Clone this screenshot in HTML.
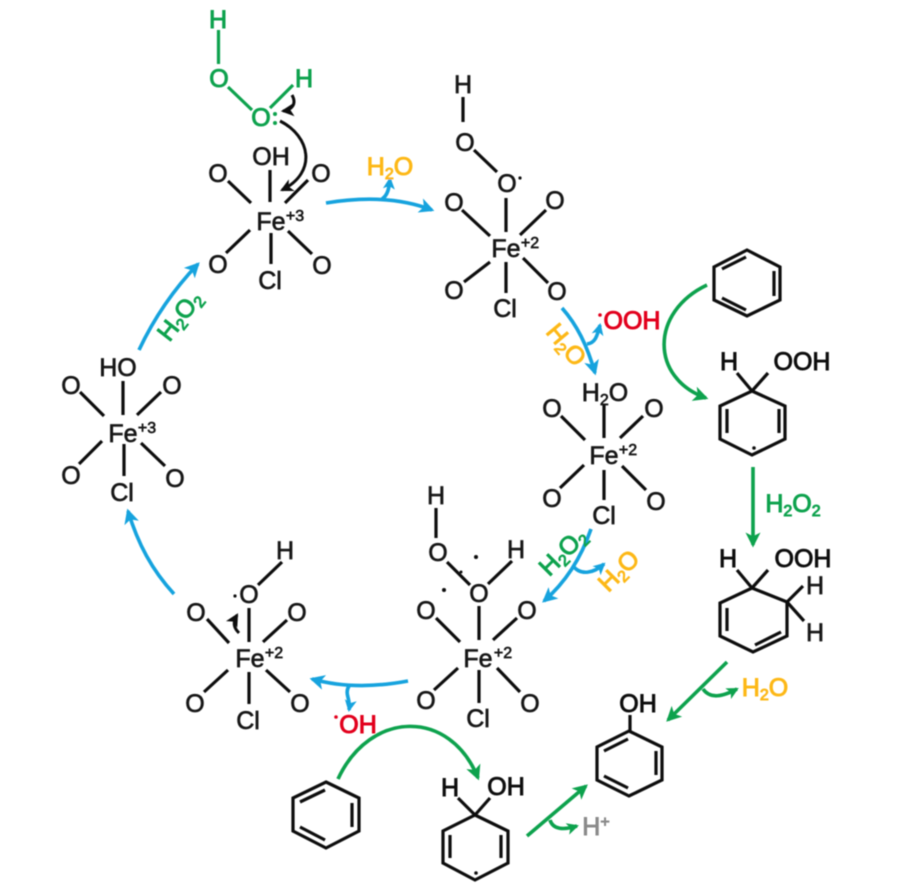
<!DOCTYPE html>
<html><head><meta charset="utf-8"><style>
html,body{margin:0;padding:0;background:#fff}
svg{display:block}
text{font-family:"Liberation Sans",sans-serif;font-size:25px;text-anchor:middle;fill:#151515;stroke:#151515;stroke-width:.65}
.s{font-size:16px}
.g{fill:#0ba24e;stroke:#0ba24e;stroke-width:.95}
.gn{fill:#0ba24e;stroke:#0ba24e;stroke-width:.95}
.y{fill:#fdb813;stroke:#fdb813;stroke-width:.95}
.r{fill:#e2001f;stroke:#e2001f;stroke-width:1}
.h{fill:#8a8a8a;stroke:#8a8a8a;stroke-width:.9}
.k{fill:#0d0d0d;stroke:#0d0d0d;stroke-width:.9}
.b path,.b line,.b polygon,.b polyline{fill:none;stroke:#111;stroke-width:3.2;stroke-linejoin:miter}
.ab{fill:none;stroke:#12a3de;stroke-width:3.6}
.ag{fill:none;stroke:#0ba24e;stroke-width:3.6}
.ak{fill:none;stroke:#111;stroke-width:3}
</style></head><body>
<svg width="900" height="889" viewBox="0 0 900 889" xmlns="http://www.w3.org/2000/svg">
<defs>
<filter id="bl" x="-2%" y="-2%" width="104%" height="104%"><feGaussianBlur stdDeviation="0.45"/></filter>
<marker id="mb" viewBox="0 0 12 12" refX="10" refY="6" markerUnits="userSpaceOnUse" markerWidth="15" markerHeight="15" orient="auto" overflow="visible"><path d="M0 0L12 6L0 12L3 6z" fill="#12a3de"/></marker>
<marker id="mbs" viewBox="0 0 12 12" refX="10" refY="6" markerUnits="userSpaceOnUse" markerWidth="12" markerHeight="12" orient="auto" overflow="visible"><path d="M0 0L12 6L0 12L3 6z" fill="#12a3de"/></marker>
<marker id="mg" viewBox="0 0 12 12" refX="10" refY="6" markerUnits="userSpaceOnUse" markerWidth="15" markerHeight="15" orient="auto" overflow="visible"><path d="M0 0L12 6L0 12L3 6z" fill="#0ba24e"/></marker>
<marker id="mgs" viewBox="0 0 12 12" refX="10" refY="6" markerUnits="userSpaceOnUse" markerWidth="12" markerHeight="12" orient="auto" overflow="visible"><path d="M0 0L12 6L0 12L3 6z" fill="#0ba24e"/></marker>
<marker id="mk" viewBox="0 0 12 12" refX="10" refY="6" markerUnits="userSpaceOnUse" markerWidth="13" markerHeight="13" orient="auto" overflow="visible"><path d="M0 0L12 6L0 12L3 6z" fill="#111"/></marker>
</defs>
<g filter="url(#bl)">

<!-- green H2O2 on top -->
<g fill="none" stroke="#0ba24e" stroke-width="3.2">
<line x1="218.500" y1="30" x2="218.500" y2="64"/>
<line x1="228" y1="87" x2="252" y2="110"/>
<line x1="270" y1="108" x2="293" y2="85"/>
</g>
<text class="gn" x="218" y="28">H</text>
<text class="gn" x="219" y="87">O</text>
<text class="gn" x="261" y="126">O</text>
<circle cx="275" cy="114" r="2" fill="#0ba24e"/><circle cx="275" cy="123" r="2" fill="#0ba24e"/>
<text class="gn" x="304" y="87">H</text>

<!-- black mechanism arrows -->
<path class="ak" d="M280 121C310 136 318 172 282 190" marker-end="url(#mk)"/>
<path class="ak" d="M292 95C297 104 292 110 283 111" stroke-width="2.4" marker-end="url(#mk)"/>
<path class="ak" d="M239 633C233 627 233 622 237 615" stroke-width="2.4" marker-end="url(#mk)"/>

<!-- Complex 1 -->
<g class="b">
<line x1="270" y1="170" x2="270" y2="202"/><line x1="228" y1="181" x2="251" y2="203"/><line x1="285" y1="203" x2="308" y2="180"/>
<line x1="250" y1="230" x2="226" y2="253"/><line x1="271" y1="233" x2="271" y2="264"/><line x1="288" y1="231" x2="312" y2="254"/>
</g>
<text x="271" y="165">OH</text><text x="218" y="182">O</text><text x="321" y="182">O</text>
<text x="271" y="230">Fe</text><text class="s" x="295" y="221">+3</text>
<text x="218" y="273">O</text><text x="270" y="289">Cl</text><text x="322" y="274">O</text>

<!-- Complex 2 -->
<g class="b">
<line x1="463" y1="97" x2="463" y2="122"/><line x1="474" y1="150" x2="497" y2="172"/><line x1="506" y1="198" x2="506" y2="232"/>
<line x1="462" y1="210" x2="490" y2="236"/><line x1="546" y1="210" x2="520" y2="235"/>
<line x1="490" y1="262" x2="464" y2="282"/><line x1="506" y1="262" x2="506" y2="293"/><line x1="523" y1="258" x2="548" y2="283"/>
</g>
<text x="463" y="93">H</text><text x="465" y="151">O</text><text x="507" y="192">O</text><circle cx="520" cy="178" r="1.600" fill="#111"/>
<text x="454" y="211">O</text><text x="555" y="209">O</text>
<text x="506" y="257">Fe</text><text class="s" x="530" y="248">+2</text>
<text x="454" y="299">O</text><text x="505" y="317">Cl</text><text x="557" y="300">O</text>

<!-- Complex 3 -->
<g class="b">
<line x1="604" y1="405" x2="604" y2="438"/><line x1="561" y1="416" x2="585" y2="440"/><line x1="620" y1="438" x2="643" y2="416"/>
<line x1="584" y1="465" x2="560" y2="488"/><line x1="604" y1="470" x2="604" y2="500"/><line x1="622" y1="466" x2="646" y2="490"/>
</g>
<text x="605" y="401">H<tspan class="s" dy="4">2</tspan><tspan dy="-4">O</tspan></text>
<text x="552" y="417">O</text><text x="654" y="417">O</text>
<text x="604" y="464">Fe</text><text class="s" x="628" y="455">+2</text>
<text x="552" y="507">O</text><text x="604" y="524">Cl</text><text x="656" y="510">O</text>

<!-- Complex 4 -->
<g class="b">
<line x1="436" y1="508" x2="436" y2="538"/><line x1="447" y1="562" x2="470" y2="585"/><line x1="488" y1="584" x2="512" y2="561"/>
<line x1="479" y1="606" x2="479" y2="640"/><line x1="436" y1="618" x2="460" y2="642"/><line x1="517" y1="618" x2="493" y2="640"/>
<line x1="458" y1="668" x2="434" y2="690"/><line x1="479" y1="670" x2="479" y2="703"/><line x1="497" y1="668" x2="520" y2="692"/>
</g>
<circle cx="476" cy="557" r="2" fill="#111"/><circle cx="444" cy="590" r="2" fill="#111"/><circle cx="461" cy="572" r="1.500" fill="#111"/>
<text x="436" y="504">H</text><text x="438" y="561">O</text><text x="516" y="558">H</text><text x="479" y="602">O</text>
<text x="426" y="619">O</text><text x="527" y="619">O</text>
<text x="478" y="667">Fe</text><text class="s" x="503" y="658">+2</text>
<text x="426" y="709">O</text><text x="478" y="727">Cl</text><text x="530" y="712">O</text>

<!-- Complex 5 -->
<g class="b">
<line x1="282" y1="562" x2="258" y2="585"/><line x1="249" y1="608" x2="249" y2="642"/>
<line x1="207" y1="619" x2="229" y2="643"/><line x1="287" y1="620" x2="263" y2="642"/>
<line x1="228" y1="670" x2="204" y2="692"/><line x1="249" y1="672" x2="249" y2="704"/><line x1="266" y1="670" x2="290" y2="692"/>
</g>
<text x="285" y="559">H</text><text x="249" y="603">O</text><circle cx="235" cy="596" r="1.600" fill="#111"/>
<text x="196" y="621">O</text><text x="297" y="621">O</text>
<text x="250" y="667">Fe</text><text class="s" x="274" y="658">+2</text>
<text x="195" y="712">O</text><text x="248" y="729">Cl</text><text x="300" y="712">O</text>

<!-- Complex 6 -->
<g class="b">
<line x1="123" y1="381" x2="123" y2="415"/><line x1="80" y1="392" x2="104" y2="416"/><line x1="161" y1="392" x2="137" y2="415"/>
<line x1="102" y1="441" x2="79" y2="464"/><line x1="124" y1="444" x2="124" y2="476"/><line x1="141" y1="443" x2="165" y2="466"/>
</g>
<text x="118" y="376">HO</text><text x="71" y="394">O</text><text x="172" y="394">O</text>
<text x="123" y="442">Fe</text><text class="s" x="147" y="433">+3</text>
<text x="71" y="484">O</text><text x="122" y="501">Cl</text><text x="175" y="487">O</text>

<!-- Blue arrows -->
<path class="ab" d="M326 203C362 197 398 197 432 210" marker-end="url(#mb)"/>
<path class="ab" d="M382 199C388 195 389 188 390 179" marker-end="url(#mbs)"/>
<text class="y" x="390" y="175">H<tspan class="s" dy="4">2</tspan><tspan dy="-4">O</tspan></text>

<path class="ab" d="M562 308C577 325 587 345 595 373" marker-end="url(#mb)"/>
<path class="ab" d="M587 344C595 343 597 337 600 325" marker-end="url(#mbs)"/>
<text class="y" transform="translate(566 345) rotate(50)" x="0" y="8">H<tspan class="s" dy="4">2</tspan><tspan dy="-4">O</tspan></text>
<circle cx="600" cy="315" r="1.800" fill="#e2001f"/><text class="r" x="632" y="329">OOH</text>

<path class="ab" d="M591 529C581 558 566 582 544 601" marker-end="url(#mb)"/>
<path class="ab" d="M573 566C581 576 594 573 604 564" marker-end="url(#mbs)"/>
<text class="g" transform="translate(563 552) rotate(-45)" x="0" y="8">H<tspan class="s" dy="4">2</tspan><tspan dy="-4">O</tspan><tspan class="s" dy="4">2</tspan></text>
<text class="y" transform="translate(619 571) rotate(-45)" x="0" y="8">H<tspan class="s" dy="4">2</tspan><tspan dy="-4">O</tspan></text>

<path class="ab" d="M408 681C376 687 344 688 312 679" marker-end="url(#mb)"/>
<path class="ab" d="M349 686C344 694 351 699 349 710" marker-end="url(#mbs)"/>
<circle cx="336" cy="717" r="1.800" fill="#e2001f"/><text class="r" x="358" y="733">OH</text>

<path class="ab" d="M174 594C152 570 138 544 128 511" marker-end="url(#mb)"/>
<path class="ab" d="M139 350C155 316 175 288 198 264" marker-end="url(#mb)"/>
<text class="g" transform="translate(180 316) rotate(-52)" x="0" y="8">H<tspan class="s" dy="4">2</tspan><tspan dy="-4">O</tspan><tspan class="s" dy="4">2</tspan></text>

<!-- Right pathway rings -->
<g class="b">
<polygon points="747,250 780,267 780,300 747,316 714,300 714,267"/>
<line x1="722" y1="269" x2="746" y2="257"/><line x1="774" y1="271" x2="774" y2="296"/><line x1="722" y1="298" x2="746" y2="310"/>

<polygon points="752,391 785,406 785,439 752,455 720,439 720,406"/>
<line x1="727" y1="409" x2="727" y2="433"/><line x1="779" y1="409" x2="779" y2="433"/>
<line x1="737" y1="373" x2="752" y2="391"/><line x1="768" y1="373" x2="752" y2="391"/>

<polygon points="752,588 787,602 787,636 753,652 720,636 720,603"/>
<line x1="727" y1="608" x2="727" y2="631"/><line x1="755" y1="645" x2="781" y2="632"/>
<line x1="737" y1="570" x2="752" y2="588"/><line x1="768" y1="570" x2="752" y2="588"/>
<line x1="787" y1="602" x2="803" y2="586"/><line x1="787" y1="602" x2="804" y2="621"/>

<!-- phenol -->
<polygon points="629,731 662,747 662,780 629,796 597,780 597,747"/>
<line x1="604" y1="751" x2="628" y2="739"/><line x1="656" y1="751" x2="656" y2="775"/><line x1="604" y1="776" x2="628" y2="788"/>
<line x1="630" y1="715" x2="630" y2="731"/>

<!-- bottom benzene -->
<polygon points="326,782 359,798 359,831 326,848 293,831 293,798"/>
<line x1="300" y1="802" x2="325" y2="790"/><line x1="352" y1="803" x2="352" y2="827"/><line x1="300" y1="827" x2="325" y2="840"/>

<!-- bottom cyclohexadienyl -->
<polygon points="475,815 508,831 508,863 475,880 443,863 443,831"/>
<line x1="450" y1="835" x2="450" y2="858"/><line x1="501" y1="835" x2="501" y2="858"/>
<line x1="458" y1="798" x2="475" y2="815"/><line x1="490" y1="798" x2="475" y2="815"/>
</g>
<circle cx="754" cy="448" r="1.800" fill="#111"/><circle cx="476" cy="873" r="1.800" fill="#111"/>

<text class="k" x="729" y="370">H</text><text class="k" x="802" y="370">OOH</text>
<text class="k" x="728" y="567">H</text><text class="k" x="803" y="567">OOH</text>
<text x="815" y="594">H</text><text x="815" y="641">H</text>
<text class="k" x="638" y="712">OH</text>
<text class="k" x="450" y="796">H</text><text class="k" x="506" y="795">OH</text>

<!-- Green arrows -->
<path class="ag" d="M707 285C650 312 650 378 706 398" marker-end="url(#mg)"/>
<line class="ag" x1="753" y1="467" x2="753" y2="545" marker-end="url(#mg)"/>
<text class="g" x="793" y="512">H<tspan class="s" dy="4">2</tspan><tspan dy="-4">O</tspan><tspan class="s" dy="4">2</tspan></text>
<line class="ag" x1="727" y1="662" x2="668" y2="720" marker-end="url(#mg)"/>
<path class="ag" d="M703 689C710 699 722 697 737 689" marker-end="url(#mgs)"/>
<text class="y" x="765" y="696">H<tspan class="s" dy="4">2</tspan><tspan dy="-4">O</tspan></text>
<path class="ag" d="M338 779C370 710 450 708 478 778" marker-end="url(#mg)"/>
<line class="ag" x1="527" y1="836" x2="586" y2="786" marker-end="url(#mg)"/>
<path class="ag" d="M550 820C553 830 564 830 577 826" marker-end="url(#mgs)"/>
<text class="h" x="596" y="835">H<tspan class="s" dy="-8">+</tspan></text>
</g>
</svg>
</body></html>
